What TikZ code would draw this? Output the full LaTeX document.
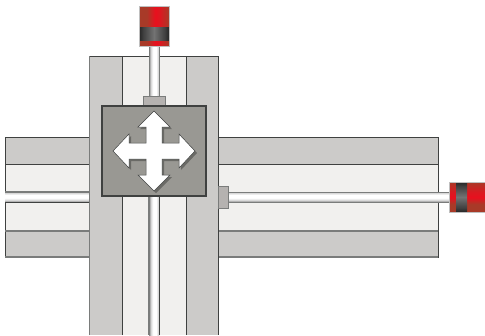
\documentclass[tikz,border=0pt]{standalone}
\definecolor{railgrey}{HTML}{CCCBC9}
\definecolor{raillight}{HTML}{F1F0EE}
\definecolor{edgedark}{HTML}{3F4140}
\definecolor{edgegrey}{HTML}{7A7C7B}
\definecolor{blockgrey}{HTML}{999893}
\definecolor{lugrey}{HTML}{B5B2B0}
\definecolor{cylred}{HTML}{E8101E}
\definecolor{cyldark}{HTML}{A83A28}
\pgfdeclarehorizontalshading{cylx}{100bp}{
  color(0bp)=(cyldark); color(25bp)=(cyldark); color(38bp)=(cyldark);
  color(52bp)=(cylred); color(60bp)=(cylred!80!cyldark); color(75bp)=(cyldark); color(100bp)=(cyldark)}
\pgfdeclareverticalshading{cyly}{100bp}{
  color(0bp)=(cyldark); color(25bp)=(cyldark); color(38bp)=(cyldark);
  color(49bp)=(cylred); color(58bp)=(cylred!80!cyldark); color(75bp)=(cyldark); color(100bp)=(cyldark)}
\pgfdeclarehorizontalshading{bandx}{100bp}{
  color(0bp)=(black!85); color(25bp)=(black!85); color(32bp)=(black!75);
  color(50bp)=(black!55); color(68bp)=(black!75); color(75bp)=(black!85); color(100bp)=(black!85)}
\pgfdeclareverticalshading{bandy}{100bp}{
  color(0bp)=(black!85); color(25bp)=(black!85); color(32bp)=(black!75);
  color(50bp)=(black!55); color(68bp)=(black!75); color(75bp)=(black!85); color(100bp)=(black!85)}
\pgfdeclarehorizontalshading{rodx}{100bp}{
  color(0bp)=(black!45); color(25bp)=(black!45); color(36bp)=(black!12);
  color(46bp)=(white); color(60bp)=(white); color(70bp)=(black!15); color(75bp)=(black!40); color(100bp)=(black!40)}
\pgfdeclareverticalshading{rody}{100bp}{
  color(0bp)=(black!45); color(25bp)=(black!45); color(36bp)=(black!12);
  color(46bp)=(white); color(60bp)=(white); color(70bp)=(black!15); color(75bp)=(black!40); color(100bp)=(black!40)}
\tikzset{
  rail/.style={fill=railgrey,draw=edgedark,line width=0.9pt},
  slot/.style={fill=raillight,draw=edgedark,line width=0.9pt},
  softedge/.style={draw=edgegrey,line width=1.2pt},
  rodh/.style={shading=rody,draw=none},
  rodv/.style={shading=rodx,draw=none},
  lug/.style={fill=lugrey,draw=edgegrey,line width=0.9pt},
  block/.style={fill=blockgrey,draw=edgedark,line width=1.6pt},
  cylv/.style={shading=cylx},
  cylh/.style={shading=cyly},
  bandv/.style={shading=bandx,draw=none},
  bandh/.style={shading=bandy,draw=none},
  cylrim/.style={draw=lightgray,line width=0.6pt},
  cross/.style={fill=white,draw=edgedark,line width=0.5pt}
}
\begin{document}
\begin{tikzpicture}[x=1pt,y=-1pt]
\useasboundingbox (0,0) rectangle (485,335);
% horizontal rail
\draw[rail] (5,137) rectangle (438,257);
\draw[slot] (5,164) rectangle (438,231);
\draw[softedge] (5,231) -- (438,231);
\draw[softedge] (5,257) -- (438,257);
% left rod
\shade[rodh] (5,192) rectangle (102,202);
\draw[edgegrey,line width=1.2pt] (5,192) -- (102,192);
\draw[edgedark,line width=0.9pt] (5,202) -- (102,202);
% right rod
\shade[rodh] (228,192) rectangle (449,202);
\draw[edgegrey,line width=0.7pt] (228,192) -- (449,192);
\draw[edgegrey,line width=0.7pt] (228,202) -- (449,202);
% vertical rail
\fill[railgrey] (89.5,56) rectangle (218,335);
\draw[edgedark,line width=0.9pt] (89.5,335) -- (89.5,56) -- (218,56) -- (218,335);
\draw[edgegrey,line width=1.2pt] (89.5,56) -- (89.5,335);
\fill[raillight] (122,56) rectangle (186,335);
\draw[edgedark,line width=0.9pt] (122,335) -- (122,56) -- (186,56) -- (186,335);
% vertical rods
\shade[rodv] (149,46) rectangle (159,106);
\draw[edgegrey,line width=0.7pt] (149,46) -- (149,106) (159,46) -- (159,106);
\shade[rodv] (149,196) rectangle (159,335);
\draw[edgegrey,line width=1.2pt] (149,196) -- (149,335);
\draw[edgedark,line width=0.9pt] (159,196) -- (159,335);
% lugs
\draw[lug] (143,96) rectangle (165,106);
\draw[lug] (218,186) rectangle (228,208);
% block
\draw[block] (102,106) rectangle (206,196);
% cross shadow and cross
\fill[black,opacity=.3,shift={(2pt,-2pt)}]
  (154,111) -- (170,127) -- (162,127) -- (162,143) -- (179,143) -- (179,134) -- (195,151) -- (179,168) -- (179,159) -- (162,159) -- (162,175) -- (170,175) -- (154,191) -- (138,175) -- (146,175) -- (146,159) -- (129,159) -- (129,168) -- (113,151) -- (129,134) -- (129,143) -- (146,143) -- (146,127) -- (138,127) -- cycle;
\draw[cross]
  (154,111) -- (170,127) -- (162,127) -- (162,143) -- (179,143) -- (179,134) -- (195,151) -- (179,168) -- (179,159) -- (162,159) -- (162,175) -- (170,175) -- (154,191) -- (138,175) -- (146,175) -- (146,159) -- (129,159) -- (129,168) -- (113,151) -- (129,134) -- (129,143) -- (146,143) -- (146,127) -- (138,127) -- cycle;
% top cylinder
\shade[cylv] (139,6) rectangle (169,46);
\shade[bandv] (139,27) rectangle (169,40);
\draw[cylrim] (139,6) rectangle (169,46);
% right cylinder
\shade[cylh] (449,182) rectangle (485,212);
\shade[bandh] (456,182) rectangle (467,212);
\draw[cylrim] (449,182) -- (485,182) (449,182) -- (449,212) -- (485,212);
\end{tikzpicture}
\end{document}
